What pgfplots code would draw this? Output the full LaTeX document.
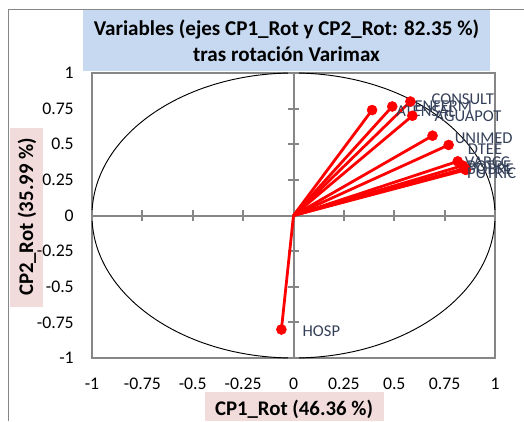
\documentclass[border=0pt]{standalone}
\usepackage{pgfplots}
\usepackage{pgfplotstable}
\usepackage{fontspec}
\setmainfont{Carlito}
\pgfplotsset{compat=1.18}
\definecolor{titlebg}{RGB}{198,217,241}
\definecolor{labbg}{RGB}{242,220,219}
\definecolor{axgray}{RGB}{134,134,134}
\definecolor{labcol}{RGB}{52,64,88}

% loadings after Varimax rotation; dx/dy = label offset in px
\pgfplotstableread{
x      y      lab      dx  dy
0.39   0.74   ATENSAL  24  -1
0.49   0.765  ENFERM   22  0
0.58   0.80   CONSULT  21  2
0.59   0.70   AGUAPOT  22  0
0.69   0.56   UNIMED   22  -3
0.77   0.495  DTEE     19  -4
0.815  0.38   VARCC    7   -1
0.84   0.35   POTRE    4   -1
0.85   0.33   POBRE    3   -1
0.855  0.32   PUTRIC   1   -3
-0.06  -0.80  HOSP     21  -2
}\vars

\begin{document}
\begin{tikzpicture}[x=0.75pt,y=0.75pt]
\useasboundingbox (0,0) rectangle (524,421);
% chart area border
\draw[axgray, line width=0.75pt] (8,0) -- (8,411) -- (524,411);
% title
\fill[titlebg] (83,350) rectangle (490,411);
\node[font=\bfseries\fontsize{15.8}{19.5}\selectfont, align=center, inner sep=0pt]
  at (286.5,380.5) {Variables (ejes CP1\_Rot y CP2\_Rot: 82.35 \%)\\tras rotación Varimax};
% axis titles
\fill[labbg] (10,114) rectangle (43,293);
\node[font=\bfseries\fontsize{15.6}{18}\selectfont, rotate=90, inner sep=0pt] at (27,204) {CP2\_Rot (35.99 \%)};
\fill[labbg] (205,0) rectangle (384,29);
\node[font=\bfseries\fontsize{15.6}{18}\selectfont, inner sep=0pt] at (294,12) {CP1\_Rot (46.36 \%)};

\begin{axis}[
  at={(69pt,47.25pt)}, anchor=south west,
  scale only axis, width=302.25pt, height=213.75pt,
  xmin=-1, xmax=1, ymin=-1, ymax=1,
  xtick={-1,-0.75,-0.5,-0.25,0,0.25,0.5,0.75,1},
  xticklabels={-1,-0.75,-0.5,-0.25,0,0.25,0.5,0.75,1},
  ytick={-1,-0.75,-0.5,-0.25,0,0.25,0.5,0.75,1},
  yticklabels={-1,-0.75,-0.5,-0.25,0,0.25,0.5,0.75,1},
  major tick length=0pt,
  axis line style={axgray, line width=1.1pt},
  ticklabel style={font=\fontsize{13.3}{16}\selectfont, inner sep=0pt},
  xticklabel style={anchor=base, yshift=-23.25pt},
  yticklabel style={anchor=east, xshift=-13.5pt},
  clip=false,
]
\draw[black, line width=0.7pt] (axis cs:0,0) ellipse [x radius=1, y radius=1];
\draw[axgray, line width=1.5pt] (axis cs:-1,0) -- (axis cs:1,0);
\draw[axgray, line width=1.5pt] (axis cs:0,-1) -- (axis cs:0,1);
\pgfplotsinvokeforeach{-1,-0.75,-0.5,-0.25,0.25,0.5,0.75,1}{
  \draw[axgray, line width=1.5pt] ([xshift=-4pt]axis cs:0,#1) -- ([xshift=4pt]axis cs:0,#1);
  \draw[axgray, line width=1.5pt] ([yshift=-4pt]axis cs:#1,0) -- ([yshift=4pt]axis cs:#1,0);
}
\addplot[red, line width=2.1pt, quiver={u=\thisrow{x}, v=\thisrow{y}}]
  table[x expr=0, y expr=0] {\vars};
\addplot[only marks, mark=*, mark size=3.75pt, red,
  point meta=explicit symbolic,
  visualization depends on={\thisrow{dx} \as \dx},
  visualization depends on={\thisrow{dy} \as \dy},
  nodes near coords,
  nodes near coords style={anchor=west, inner sep=0pt, text=labcol,
    font=\fontsize{12.4}{15}\selectfont,
    xshift=\dx*0.75pt, yshift=\dy*0.75pt}]
  table[x=x, y=y, meta=lab] {\vars};
\end{axis}
\end{tikzpicture}
\end{document}
